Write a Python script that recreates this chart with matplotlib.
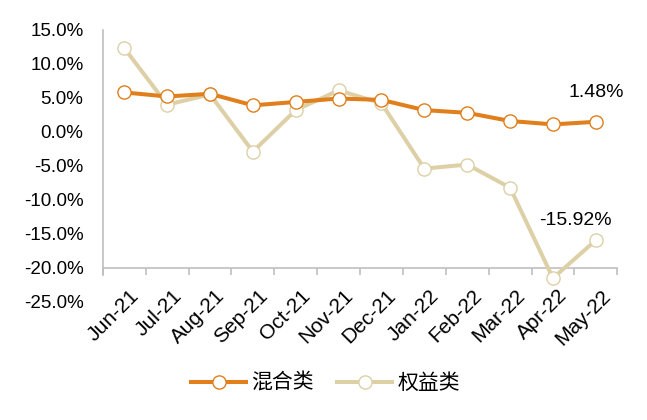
import matplotlib
matplotlib.use("Agg")
import matplotlib.pyplot as plt
import matplotlib.transforms as mtransforms
import numpy as np

months = ["Jun-21", "Jul-21", "Aug-21", "Sep-21", "Oct-21", "Nov-21",
          "Dec-21", "Jan-22", "Feb-22", "Mar-22", "Apr-22", "May-22"]
mixed = [5.8, 5.2, 5.6, 3.9, 4.4, 4.9, 4.7, 3.2, 2.8, 1.6, 1.1, 1.48]
equity = [12.3, 4.0, 5.5, -2.9, 3.2, 6.1, 4.2, -5.4, -4.8, -8.2, -21.5, -15.92]
series_names = ["混合类", "权益类"]
yticks = [15, 10, 5, 0, -5, -10, -15, -20, -25]

orange = "#E07F1C"
beige = "#DDD0A6"
axis_gray = "#BFBFBF"

plt.rcParams['font.family'] = ['Liberation Sans', 'Noto Sans CJK SC', 'DejaVu Sans']

fig = plt.figure(figsize=(6.47, 4.2), dpi=100)
ax = fig.add_axes([0.159, 0.281, 0.795, 0.648])

x = np.arange(len(months))
ax.plot(x, mixed, color=orange, lw=2.9, marker='o', ms=9.5, mfc='white',
        mec=orange, mew=1.0, label=series_names[0], zorder=4)
ax.plot(x, equity, color=beige, lw=2.9, marker='o', ms=9.5, mfc='white',
        mec=beige, mew=1.0, label=series_names[1], zorder=3)

ax.set_xlim(-0.5, len(months) - 0.5)
ax.set_ylim(-25, 15)
ax.set_yticks(yticks)
ax.set_yticklabels([f"{v:.1f}%" for v in yticks], fontsize=13.5)
ax.tick_params(axis='y', length=0, pad=14)

for s in ['top', 'right']:
    ax.spines[s].set_visible(False)
ax.spines['bottom'].set_position(('data', -20))
ax.spines['bottom'].set_color(axis_gray)
ax.spines['left'].set_color(axis_gray)
ax.spines['left'].set_bounds(-21, 15)
ax.spines['bottom'].set_linewidth(1.2)
ax.spines['left'].set_linewidth(1.2)

ax.set_xticks(x)
ax.set_xticklabels(months, fontsize=15, rotation=45, ha='right',
                   rotation_mode='anchor')
ax.tick_params(axis='x', which='major', length=0, pad=13)
ax.set_xticks(np.arange(-0.5, len(months)), minor=True)
ax.tick_params(axis='x', which='minor', length=5, color=axis_gray, width=1.2)
for lbl in ax.get_xticklabels():
    lbl.set_transform(lbl.get_transform() + mtransforms.ScaledTranslation(0.05, 0, fig.dpi_scale_trans))

ax.annotate(f"{mixed[-1]:.2f}%", (x[-1], mixed[-1]), xytext=(0, 21),
            textcoords='offset points', ha='center', va='center', fontsize=14)
ax.annotate(f"{equity[-1]:.2f}%", (x[-1], equity[-1]), xytext=(-15, 14),
            textcoords='offset points', ha='center', va='center', fontsize=14)

leg = fig.legend(loc='center', bbox_to_anchor=(0.503, 0.088), ncol=2, frameon=False,
                 fontsize=15, handlelength=2.65, columnspacing=1.1,
                 handletextpad=0.25)

fig.savefig("out.png", dpi=100)
